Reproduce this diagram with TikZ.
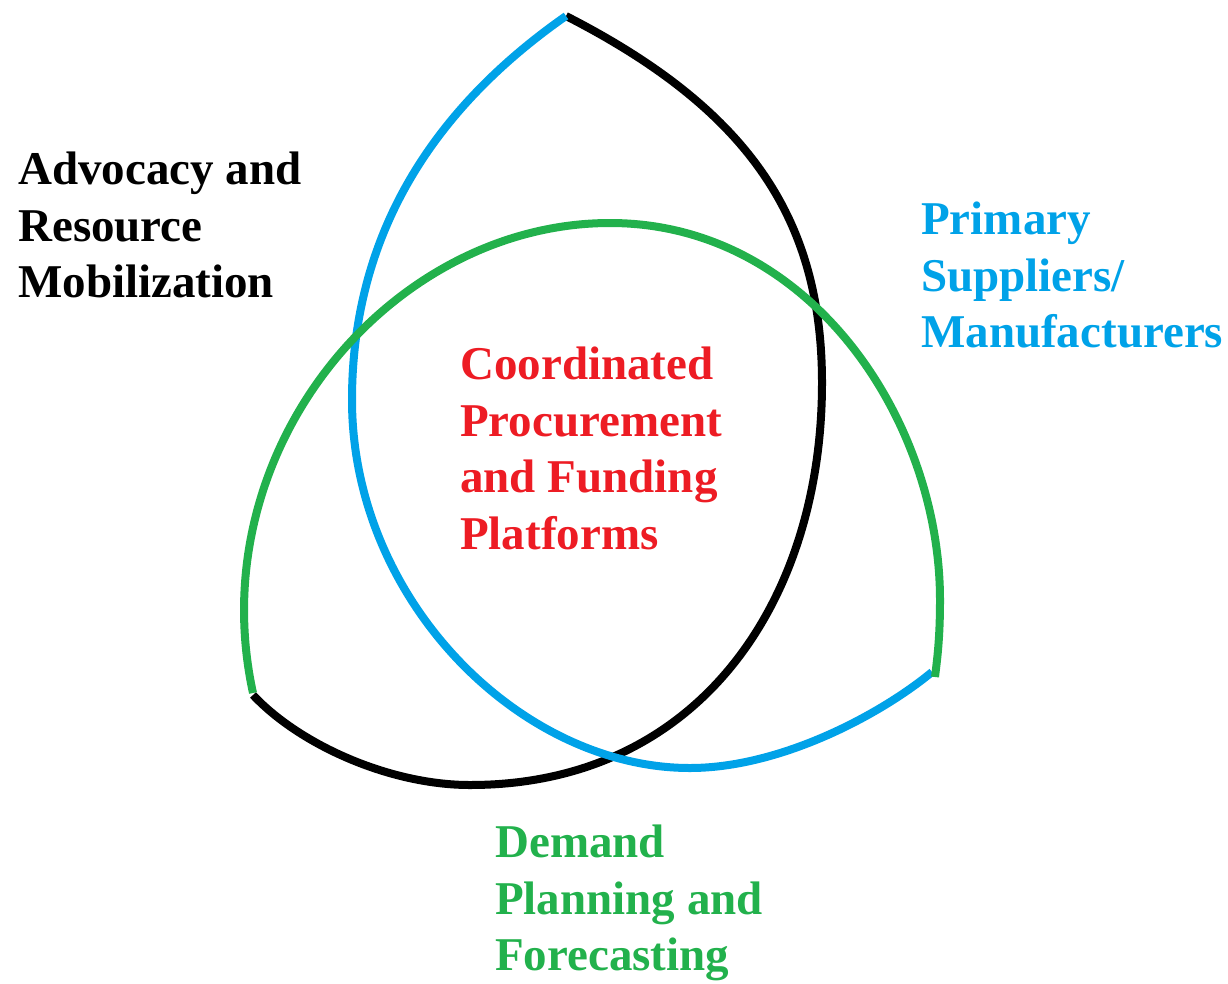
\documentclass[tikz,border=0pt]{standalone}
\usepackage{fontspec}
\setmainfont{Liberation Serif}
\definecolor{pblue}{RGB}{0,162,232}
\definecolor{pgreen}{RGB}{34,177,76}
\definecolor{pred}{RGB}{237,28,36}
\begin{document}
\begin{tikzpicture}[x=1pt,y=-1pt,
    ring/.style={line width=8pt},
    lbltext/.style={anchor=north west, inner sep=0pt, align=left,
      font=\fontsize{47}{56.5}\selectfont\bfseries}]
    \useasboundingbox (0,0) rectangle (1228,983);

    % Black curve: top, right side, bottom left
    \draw[ring, black] (566,16) .. controls (750,110) and (822,220) .. (822,383)
      .. controls (822,600) and (700,785) .. (470,785)
      .. controls (390,785) and (300,745) .. (253,695);

    % Blue curve: top, left side, bottom right
    \draw[ring, pblue] (566,16) .. controls (410,125) and (352,260) .. (352,400)
      .. controls (352,600) and (520,768) .. (690,768)
      .. controls (780,768) and (880,715) .. (932,672);

    % Green curve: left, over the top, right
    \draw[ring, pgreen] (253,693) .. controls (200,450) and (390,223) .. (610,223)
      .. controls (810,223) and (940,420) .. (940,600)
      .. controls (940,640) and (937,660) .. (935,677);

    % Labels
    \node[lbltext, black] (advocacy) at (18,152) {Advocacy and\\Resource\\Mobilization};
    \node[lbltext, pblue] (suppliers) at (921,202) {Primary\\Suppliers/\\Manufacturers};
    \node[lbltext, pred] (platforms) at (460,347) {Coordinated\\Procurement\\and Funding\\Platforms};
    \node[lbltext, pgreen] (demand) at (495,825) {Demand\\Planning and\\Forecasting};
\end{tikzpicture}
\end{document}
